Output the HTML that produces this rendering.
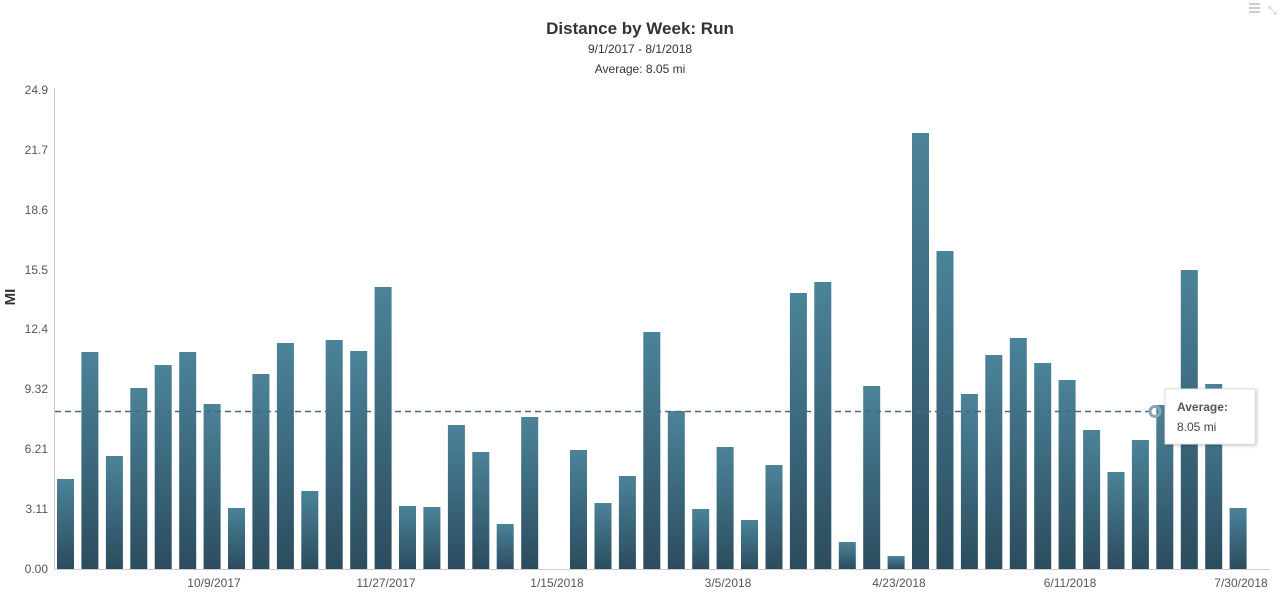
<!DOCTYPE html>
<html><head><meta charset="utf-8"><style>
body{margin:0;background:#fff;font-family:"Liberation Sans",sans-serif}
</style></head><body>
<svg id="c" width="1280" height="608" xmlns="http://www.w3.org/2000/svg" font-family="Liberation Sans, sans-serif">
<defs><linearGradient id="g" x1="0" y1="0" x2="0" y2="1"><stop offset="0" stop-color="#4b8399"/><stop offset="1" stop-color="#2c4c5e"/></linearGradient>
<filter id="sh" x="-10%" y="-10%" width="130%" height="140%"><feDropShadow dx="1" dy="1" stdDeviation="1.5" flood-opacity="0.25"/></filter></defs>
<text x="640" y="34" text-anchor="middle" font-size="17" font-weight="bold" fill="#333">Distance by Week: Run</text>
<text x="640" y="53" text-anchor="middle" font-size="12" fill="#333">9/1/2017 - 8/1/2018</text>
<text x="640" y="73" text-anchor="middle" font-size="12" fill="#333">Average: 8.05 mi</text>
<text transform="translate(15,297) rotate(-90)" text-anchor="middle" font-size="15" font-weight="bold" fill="#333">MI</text>
<g font-size="12" fill="#555" text-anchor="end">
<text x="48" y="94">24.9</text><text x="48" y="154">21.7</text><text x="48" y="214">18.6</text><text x="48" y="274">15.5</text><text x="48" y="333">12.4</text><text x="48" y="393">9.32</text><text x="48" y="453">6.21</text><text x="48" y="513">3.11</text><text x="48" y="573">0.00</text>
</g>
<line x1="54.5" y1="88" x2="54.5" y2="569" stroke="#ccc"/>
<line x1="54" y1="569.5" x2="1270" y2="569.5" stroke="#ccc"/>
<g id="bars"></g>
<g font-size="12" fill="#555" text-anchor="middle">
<text x="214" y="587">10/9/2017</text><text x="386" y="587">11/27/2017</text><text x="557" y="587">1/15/2018</text><text x="728" y="587">3/5/2018</text><text x="899" y="587">4/23/2018</text><text x="1070" y="587">6/11/2018</text><text x="1241" y="587">7/30/2018</text>
</g>
<line x1="55" y1="411.5" x2="1155" y2="411.5" stroke="#4a6a80" stroke-width="1.5" stroke-dasharray="6,4"/>
<g filter="url(#sh)"><rect x="1165" y="389" width="90" height="55" fill="#fff" stroke="#e5e5e5"/></g>
<circle cx="1155" cy="411.5" r="5" fill="none" stroke="#8aa4b2" stroke-width="3"/>
<text x="1177" y="411" font-size="12" font-weight="bold" fill="#555">Average:</text>
<text x="1177" y="431" font-size="12" fill="#444">8.05 mi</text>
<g stroke="#bbb" stroke-width="1.5"><line x1="1249" y1="4" x2="1260" y2="4"/><line x1="1249" y1="8" x2="1260" y2="8"/><line x1="1249" y1="12" x2="1260" y2="12"/></g>
<text x="1268" y="14" font-size="11" fill="#bbb">⤡</text>
</svg>
<script>
var tops=[479,352,456,388,365,352,404,508,374,343,491,340,351,287,506,507,425,452,524,417,null,450,503,476,332,411,509,447,520,465,293,282,542,386,556,133,251,394,355,338,363,380,430,472,440,405,270,384,508];
var g=document.getElementById('bars'),s='';
tops.forEach(function(t,i){if(t==null)return;var x=57+i*24.43;s+='<rect x="'+x.toFixed(1)+'" y="'+t+'" width="17" height="'+(569-t)+'" fill="url(#g)"/>';});
g.innerHTML=s;
</script>
</body></html>
